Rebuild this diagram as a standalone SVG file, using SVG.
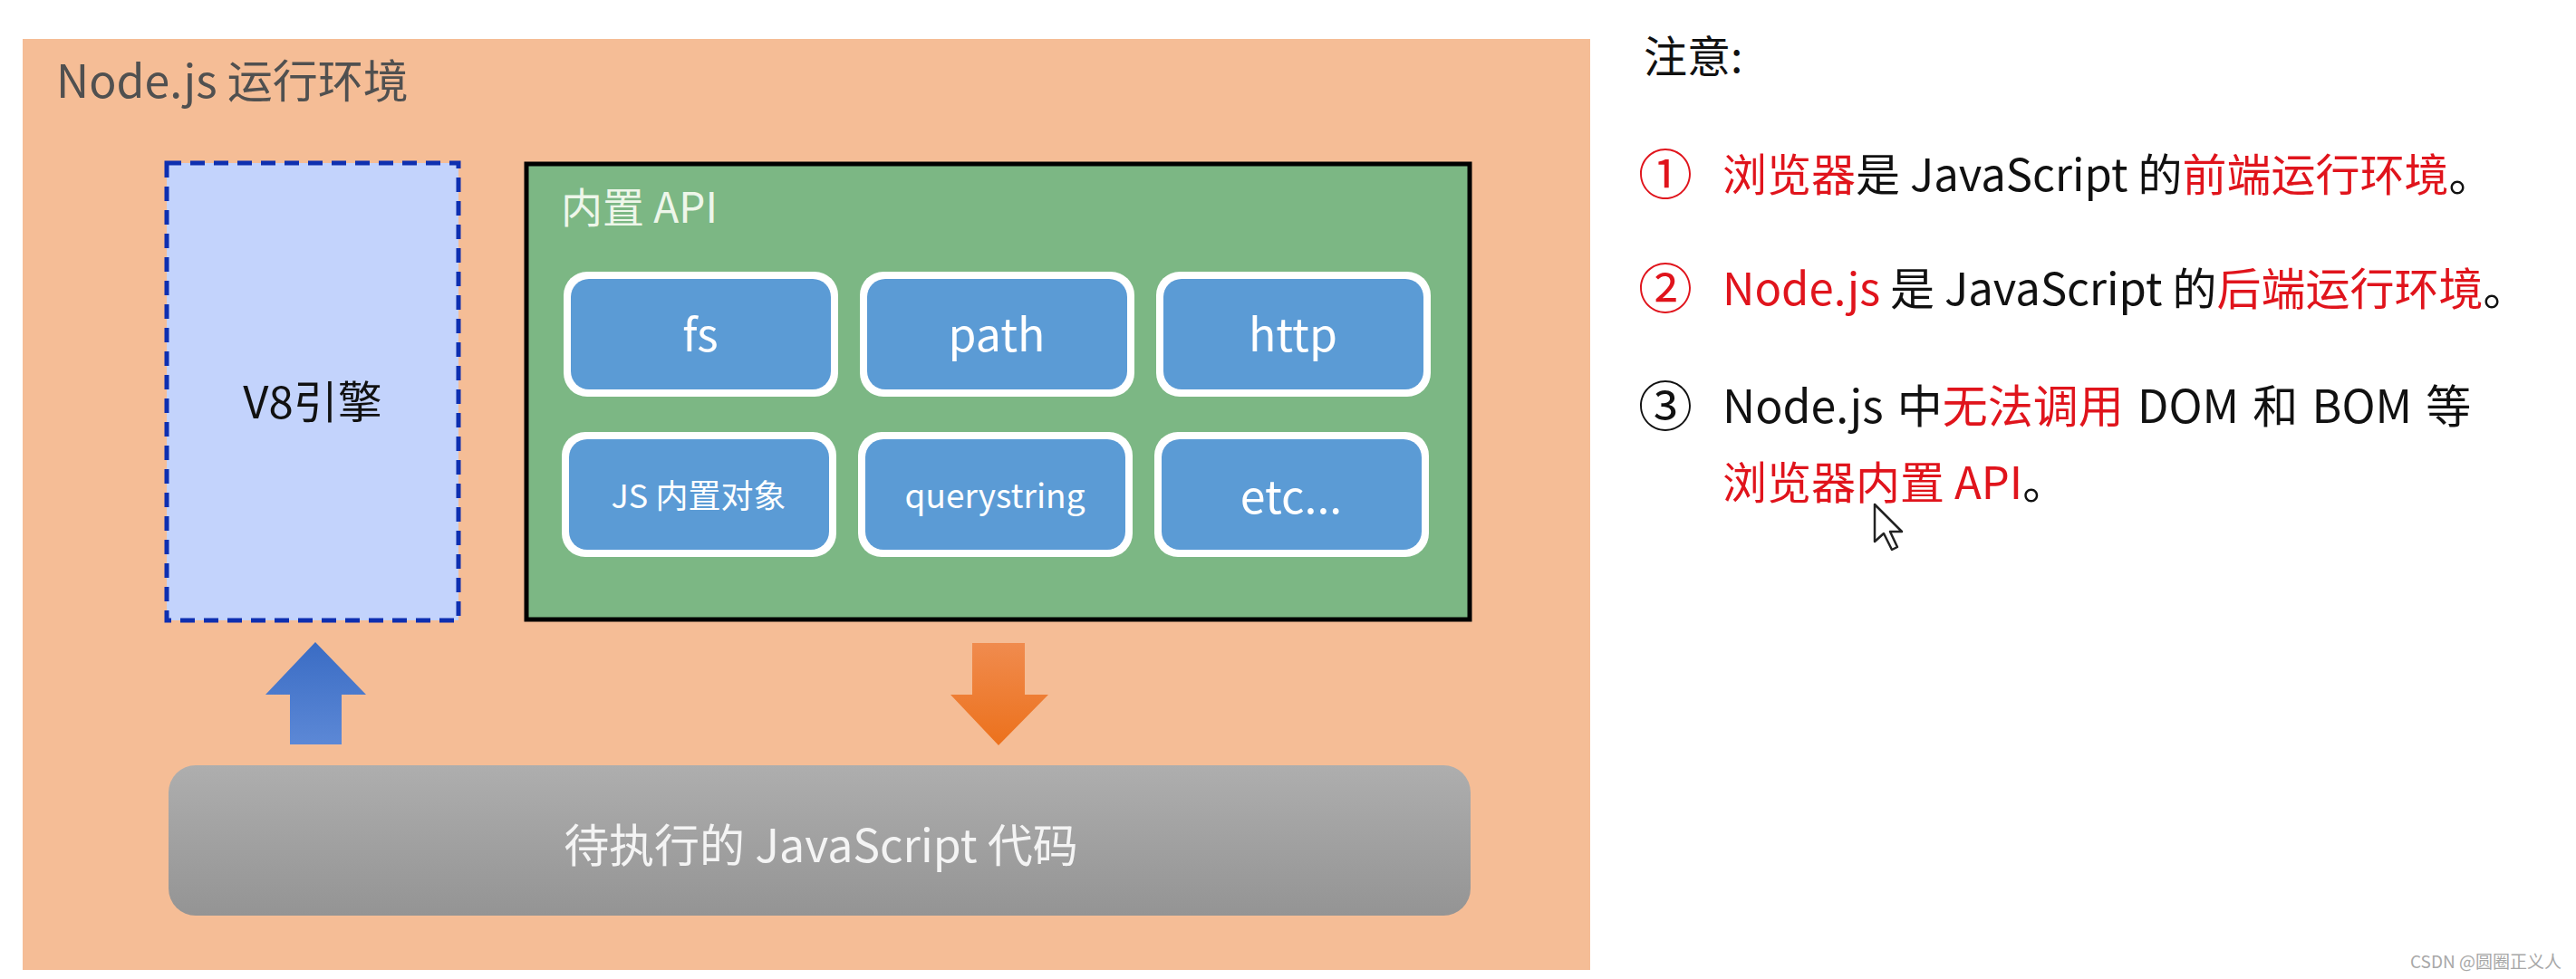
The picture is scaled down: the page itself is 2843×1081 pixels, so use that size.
<svg xmlns="http://www.w3.org/2000/svg" width="2843" height="1081" viewBox="0 0 2843 1081">
<style>
  text { font-family: "Noto Sans CJK SC", "Noto Sans", sans-serif; }
  .btn-outer { fill: #ffffff; }
  .btn-inner { fill: #5B9BD5; }
  .btn-text { fill: #ffffff; text-anchor: middle; dominant-baseline: central; }
  .red { fill: #E0141C; }
  .blk { fill: #111111; }
  .num { font-size: 60px; }
</style>
<defs>
  <linearGradient id="gray" x1="0" y1="0" x2="0" y2="1">
    <stop offset="0" stop-color="#AEAEAE"/>
    <stop offset="1" stop-color="#949494"/>
  </linearGradient>
  <linearGradient id="blueArrow" x1="0" y1="0" x2="0" y2="1">
    <stop offset="0" stop-color="#3A6CC4"/>
    <stop offset="1" stop-color="#5C88D6"/>
  </linearGradient>
  <linearGradient id="orangeArrow" x1="0" y1="0" x2="0" y2="1">
    <stop offset="0" stop-color="#F08B4E"/>
    <stop offset="1" stop-color="#EC711C"/>
  </linearGradient>
</defs>
<rect x="0" y="0" width="2843" height="1081" fill="#ffffff"/>

<g id="nodejs-env">
  <rect x="25" y="43" width="1730" height="1028" fill="#F5BD96"/>
  <text x="62" y="108" font-size="50" fill="#505050">Node.js 运行环境</text>
</g>

<g id="v8">
  <rect x="184" y="180" width="322" height="505" fill="#C3D3FC" stroke="#0E2FB0" stroke-width="5" stroke-dasharray="16,10"/>
  <text x="345" y="440" font-size="49" fill="#111" text-anchor="middle" dominant-baseline="central">V8引擎</text>
</g>

<g id="builtin-api">
  <rect x="581" y="181" width="1041" height="503" fill="#7CB784" stroke="#000" stroke-width="5"/>
  <text x="619" y="246" font-size="46" fill="#EEF6EA">内置 API</text>
</g>

<g id="fs">
  <rect class="btn-outer" x="622" y="300" width="303" height="138" rx="26"/>
  <rect class="btn-inner" x="630" y="308" width="287" height="122" rx="20"/>
  <text class="btn-text" x="773" y="366" font-size="50">fs</text>
</g>
<g id="path">
  <rect class="btn-outer" x="949" y="300" width="303" height="138" rx="26"/>
  <rect class="btn-inner" x="957" y="308" width="287" height="122" rx="20"/>
  <text class="btn-text" x="1100" y="366" font-size="50">path</text>
</g>
<g id="http">
  <rect class="btn-outer" x="1276" y="300" width="303" height="138" rx="26"/>
  <rect class="btn-inner" x="1284" y="308" width="287" height="122" rx="20"/>
  <text class="btn-text" x="1427" y="366" font-size="50">http</text>
</g>
<g id="js-builtin">
  <rect class="btn-outer" x="620" y="477" width="303" height="138" rx="26"/>
  <rect class="btn-inner" x="628" y="485" width="287" height="122" rx="20"/>
  <text class="btn-text" x="771" y="545" font-size="36">JS 内置对象</text>
</g>
<g id="querystring">
  <rect class="btn-outer" x="947" y="477" width="303" height="138" rx="26"/>
  <rect class="btn-inner" x="955" y="485" width="287" height="122" rx="20"/>
  <text class="btn-text" x="1098" y="545" font-size="37">querystring</text>
</g>
<g id="etc">
  <rect class="btn-outer" x="1274" y="477" width="303" height="138" rx="26"/>
  <rect class="btn-inner" x="1282" y="485" width="287" height="122" rx="20"/>
  <text class="btn-text" x="1425" y="545" font-size="50">etc...</text>
</g>

<g id="js-code">
  <rect x="186" y="845" width="1437" height="166" rx="30" fill="url(#gray)"/>
  <text x="906" y="930" font-size="50" fill="#F4F4F4" text-anchor="middle" dominant-baseline="central">待执行的 JavaScript 代码</text>
</g>

<g id="connectors">
  <polygon points="348,709 404,767 377,767 377,822 320,822 320,767 293,767" fill="url(#blueArrow)"/>
  <polygon points="1073,710 1131,710 1131,767 1157,767 1102,823 1049,767 1073,767" fill="url(#orangeArrow)"/>
</g>

<g id="notes">
  <text x="1814" y="80" font-size="48" class="blk">注意:</text>
  <text x="1808" y="215" class="red num">①</text>
  <text x="1901" y="211" font-size="49"><tspan class="red">浏览器</tspan><tspan class="blk">是 JavaScript 的</tspan><tspan class="red">前端运行环境</tspan><tspan class="blk">。</tspan></text>
  <text x="1808" y="341" class="red num">②</text>
  <text x="1901" y="337" font-size="49"><tspan class="red">Node.js</tspan><tspan class="blk"> 是 JavaScript 的</tspan><tspan class="red">后端运行环境</tspan><tspan class="blk">。</tspan></text>
  <text x="1808" y="471" class="blk num">③</text>
  <text x="1901" y="467" font-size="50" word-spacing="4"><tspan class="blk">Node.js 中</tspan><tspan class="red">无法调用</tspan><tspan class="blk"> DOM 和 BOM 等</tspan></text>
  <text x="1901" y="551" font-size="49"><tspan class="red">浏览器内置 API</tspan><tspan class="blk">。</tspan></text>
  <polygon points="2069,557 2069,598 2079,589 2088,607 2094,604 2086,587 2099,587" fill="#ffffff" stroke="#222" stroke-width="2.5" stroke-linejoin="round"/>
</g>

<text x="2827" y="1069" font-size="19" fill="#A8A8A8" text-anchor="end">CSDN @圆圈正义人</text>
</svg>
